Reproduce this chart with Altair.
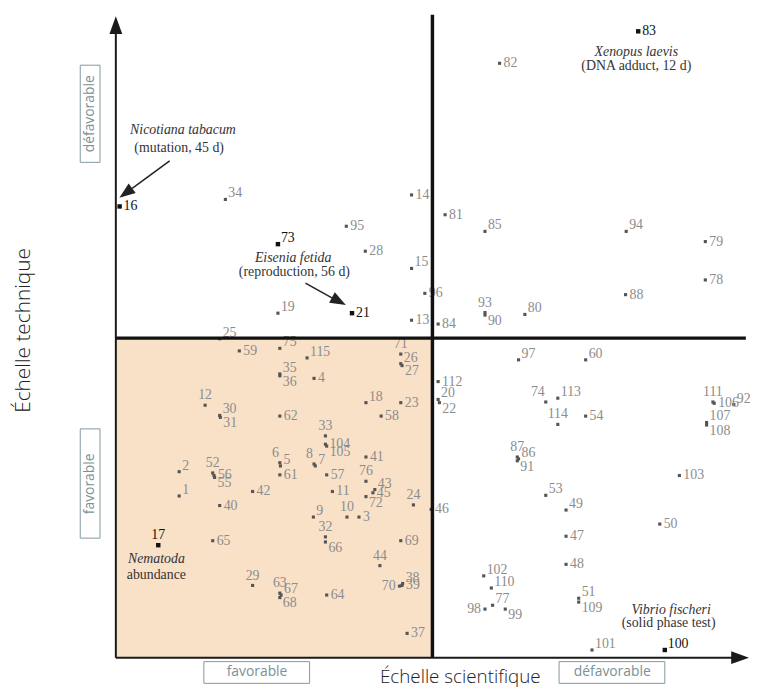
import altair as alt
import pandas as pd

# ---------------- data (scores, divider at 50 / 50) ----------------
nums = [16, 34, 14, 95, 73, 28, 15, 96, 19, 21, 13, 25,
        83, 82, 81, 85, 94, 79, 78, 88, 93, 90, 80, 84,
        59, 75, 115, 35, 36, 4, 71, 26, 27, 12, 18, 23, 30, 31, 62, 58, 33, 104, 105,
        6, 5, 61, 8, 7, 57, 41, 76, 43, 45, 72, 24, 2, 52, 56, 55, 1, 42, 11, 40, 9, 10, 3,
        32, 66, 17, 65, 69, 44, 29, 38, 70, 39, 63, 67, 68, 64, 37,
        97, 60, 112, 20, 22, 74, 113, 114, 54, 111, 106, 92, 107, 108, 87, 86, 91, 103,
        53, 49, 46, 50, 47, 48, 102, 110, 98, 77, 99, 51, 109, 101, 100]

xs = [0.6, 17.3, 46.7, 36.4, 25.6, 39.4, 46.7, 48.8, 25.6, 37.3, 46.7, 16.4,
      82.5, 60.6, 52.0, 58.3, 80.6, 93.1, 93.1, 80.5, 58.3, 58.3, 64.6, 50.9,
      19.5, 25.9, 30.2, 25.9, 25.9, 31.3, 45.0, 45.0, 45.2, 14.1, 39.5, 45.0, 16.4, 16.5, 25.9, 41.9, 33.1, 33.1, 33.3,
      25.9, 26.0, 25.9, 31.3, 31.5, 33.3, 39.5, 39.5, 40.9, 40.6, 39.5, 47.0, 10.0, 15.3, 15.5, 15.6, 10.0, 21.6, 34.2, 16.4, 31.2, 36.5, 38.4,
      33.1, 33.1, 6.7, 15.3, 45.0, 41.7, 21.6, 45.3, 44.8, 45.2, 25.9, 26.1, 25.9, 33.3, 46.0,
      63.6, 74.2, 50.9, 50.9, 51.1, 67.9, 69.8, 69.8, 74.2, 94.3, 94.5, 97.6, 93.3, 93.3, 63.4, 63.6, 63.4, 89.0,
      67.9, 71.1, 49.8, 85.9, 71.1, 71.1, 58.1, 59.3, 58.3, 59.5, 61.5, 73.1, 73.1, 75.2, 86.7]

ys = [70.6, 71.7, 72.4, 67.5, 64.7, 63.6, 60.9, 57.0, 53.9, 53.9, 52.8, 49.9,
      98.0, 93.0, 69.3, 66.7, 66.7, 65.1, 59.1, 56.8, 54.0, 53.6, 53.7, 52.2,
      48.0, 48.4, 46.9, 44.4, 44.1, 43.7, 47.5, 46.0, 45.7, 39.5, 39.9, 39.9, 37.9, 37.6, 37.8, 37.8, 34.7, 33.4, 33.1,
      30.5, 30.0, 28.6, 30.3, 30.0, 28.6, 31.4, 27.6, 26.3, 25.8, 25.2, 23.9, 29.1, 28.9, 28.5, 28.2, 25.3, 26.0, 26.0, 23.8, 22.0, 22.0, 22.0,
      18.9, 18.1, 17.6, 18.3, 18.3, 14.4, 11.3, 11.6, 11.2, 11.3, 10.1, 9.8, 9.4, 9.8, 3.8,
      46.6, 46.6, 43.2, 40.4, 39.9, 40.0, 40.6, 36.5, 37.8, 40.0, 39.8, 39.6, 36.8, 36.4, 31.4, 31.1, 30.8, 28.5,
      25.4, 23.1, 23.2, 20.9, 19.0, 14.6, 12.8, 10.9, 7.6, 8.2, 7.6, 9.3, 8.7, 1.2, 1.2]

label_pos = ["r", "ar", "r", "r", "ar", "r", "ar", "r", "ar", "r", "r", "ar",
             "r", "r", "r", "ar", "ar", "r", "r", "r", "a", "br", "ar", "r",
             "r", "ar", "ar", "ar", "br", "r", "a", "ar", "br", "a", "ar", "r", "ar", "br", "r", "r", "a", "r", "br",
             "al", "ar", "r", "al", "ar", "r", "r", "a", "ar", "r", "br", "a", "ar", "a", "r", "br", "ar", "r", "r", "r", "ar", "a", "r",
             "a", "br", "a", "r", "r", "a", "a", "ar", "l", "r", "a", "ar", "br", "r", "r",
             "ar", "ar", "r", "ar", "br", "al", "ar", "a", "r", "a", "r", "ar", "ar", "br", "a", "ar", "br", "r",
             "ar", "ar", "r", "r", "r", "r", "ar", "ar", "l", "ar", "br", "ar", "br", "ar", "ar"]

highlighted = [16, 73, 21, 83, 17, 100]

ann_text = ["Nicotiana tabacum", "(mutation, 45 d)", "Eisenia fetida", "(reproduction, 56 d)",
            "Xenopus laevis", "(DNA adduct, 12 d)", "Nematoda", "abundance",
            "Vibrio fischeri", "(solid phase test)"]
ann_x = [10.6, 10.0, 28.0, 28.2, 82.2, 82.2, 6.4, 6.4, 87.7, 87.3]
ann_y = [82.5, 79.7, 62.5, 60.4, 94.7, 92.6, 15.4, 12.9, 7.4, 5.4]
ann_italic = [True, False, True, False, True, False, True, False, True, False]

# ---------------- layout ----------------
W, H = 751, 680
PX_X, PX_Y = 6.4, 6.46
X_DOM = [-109 / PX_X, (W - 109) / PX_X]
Y_DOM = [(653 - H) / PX_Y, 653 / PX_Y]

xsc = alt.Scale(domain=X_DOM, nice=False, zero=False)
ysc = alt.Scale(domain=Y_DOM, nice=False, zero=False)


def X(f):
    return alt.X(f, type="quantitative", scale=xsc, axis=None)


def Y(f):
    return alt.Y(f, type="quantitative", scale=ysc, axis=None)


offs = {"r": (4, 0), "ar": (3, -6), "br": (3, 6), "a": (0, -10), "al": (-1, -10), "l": (-4, 0)}
aligns = {"r": "left", "ar": "left", "br": "left", "a": "center", "al": "right", "l": "right"}

df = pd.DataFrame({"num": nums, "x": xs, "y": ys, "pos": label_pos})
df["lx"] = [x + offs[p][0] / PX_X for x, p in zip(xs, label_pos)]
df["ly"] = [y - offs[p][1] / PX_Y for y, p in zip(ys, label_pos)]
df["align"] = [aligns[p] for p in label_pos]
df["hi"] = df["num"].isin(highlighted)
df["label"] = df["num"].astype(str)

quad = alt.Chart(pd.DataFrame({"x": [0], "x2": [50], "y": [0], "y2": [50]})).mark_rect(
    color="#f9e1c8").encode(x=X("x"), x2="x2", y=Y("y"), y2="y2")

pts = alt.Chart(df).mark_square(opacity=1).encode(
    x=X("x"), y=Y("y"),
    size=alt.condition("datum.hi", alt.value(20), alt.value(10)),
    color=alt.condition("datum.hi", alt.value("#111111"), alt.value("#555555")))

label_layers = []
for al in ["left", "center", "right"]:
    label_layers.append(
        alt.Chart(df[df["align"] == al]).mark_text(
            align=al, baseline="middle", font="Liberation Serif", fontSize=14).encode(
            x=X("lx"), y=Y("ly"), text="label:N",
            color=alt.condition("datum.hi", alt.value("#111111"), alt.value("#8c8c8c"))))

div_df = pd.DataFrame({"x": [50, 0], "x2": [50, 99.5], "y": [0, 50], "y2": [100.6, 50]})
dividers = alt.Chart(div_df).mark_rule(color="#111111", strokeWidth=3.5).encode(
    x=X("x"), x2="x2", y=Y("y"), y2="y2")

ax_df = pd.DataFrame({"x": [0, 0], "x2": [0, 97.5], "y": [0, 0], "y2": [97.7, 0]})
axes = alt.Chart(ax_df).mark_rule(color="#1a1a1a", strokeWidth=2).encode(
    x=X("x"), x2="x2", y=Y("y"), y2="y2")

head_path = "M0,0L-0.36,1L0.36,1Z"
heads_df = pd.DataFrame({"x": [0, 100.0], "y": [100.36, 0], "angle": [0, 90]})
heads = alt.Chart(heads_df).mark_point(shape=head_path, filled=True, size=1296,
                                       color="#1a1a1a", opacity=1).encode(
    x=X("x"), y=Y("y"), angle=alt.Angle("angle:Q", scale=None))

arr_df = pd.DataFrame({"x": [8.5, 29.94], "x2": [2.58, 34.13], "y": [77.74, 58.61], "y2": [73.44, 56.28]})
arr_lines = alt.Chart(arr_df).mark_rule(color="#222222", strokeWidth=1.5).encode(
    x=X("x"), x2="x2", y=Y("y"), y2="y2")
arr_heads_df = pd.DataFrame({"x": [0.56, 36.33], "y": [71.98, 55.19], "angle": [233.8, 118.4]})
arr_heads = alt.Chart(arr_heads_df).mark_point(shape="M0,0L-0.375,1L0.375,1Z", filled=True, size=1024,
                                               color="#222222", opacity=1).encode(
    x=X("x"), y=Y("y"), angle=alt.Angle("angle:Q", scale=None))

ann_df = pd.DataFrame({"t": ann_text, "x": ann_x, "y": ann_y, "it": ann_italic})
ann_layers = []
for it in [True, False]:
    ann_layers.append(
        alt.Chart(ann_df[ann_df["it"] == it]).mark_text(
            align="center", baseline="middle", font="Liberation Serif", fontSize=14,
            fontStyle="italic" if it else "normal", color="#333333").encode(
            x=X("x"), y=Y("y"), text="t:N"))

box_df = pd.DataFrame({"x": [13.9, 70.0, -5.62, -5.62], "x2": [30.6, 86.7, -2.5, -2.5],
                       "y": [-0.62, -0.62, 92.7, 35.8], "y2": [-4.02, -4.02, 77.5, 18.7]})
boxes = alt.Chart(box_df).mark_rect(fillOpacity=0, stroke="#8298a0", strokeWidth=1).encode(
    x=X("x"), x2="x2", y=Y("y"), y2="y2")

bt_h = pd.DataFrame({"t": ["favorable", "défavorable"], "x": [22.3, 78.4], "y": [-2.32, -2.32]})
bt_v = pd.DataFrame({"t": ["défavorable", "favorable"], "x": [-4.06, -4.06], "y": [85.1, 27.2]})
box_txt_h = alt.Chart(bt_h).mark_text(align="center", baseline="middle", font="Open Sans",
                                      fontSize=14, color="#7b9098").encode(x=X("x"), y=Y("y"), text="t:N")
box_txt_v = alt.Chart(bt_v).mark_text(align="center", baseline="middle", font="Open Sans", angle=270,
                                      fontSize=14, color="#7b9098").encode(x=X("x"), y=Y("y"), text="t:N")

tt_h = pd.DataFrame({"t": ["Échelle scientifique"], "x": [54.4], "y": [-3.1]})
tt_v = pd.DataFrame({"t": ["Échelle technique"], "x": [-14.5], "y": [51.2]})
title_h = alt.Chart(tt_h).mark_text(align="center", baseline="middle", font="Open Sans", fontWeight=300,
                                    fontSize=19, color="#222222").encode(x=X("x"), y=Y("y"), text="t:N")
title_v = alt.Chart(tt_v).mark_text(align="center", baseline="middle", font="Open Sans", fontWeight=300,
                                    angle=270, fontSize=21, color="#222222").encode(x=X("x"), y=Y("y"), text="t:N")

chart = alt.layer(
    quad, pts, *label_layers, dividers, axes, heads, arr_lines, arr_heads, *ann_layers,
    boxes, box_txt_h, box_txt_v, title_h, title_v
).properties(
    width=W, height=H, padding=0, autosize=alt.AutoSizeParams(type="none")
).configure_view(stroke=None)

chart.save("out.html", embed_options={"renderer": "svg", "actions": False})
